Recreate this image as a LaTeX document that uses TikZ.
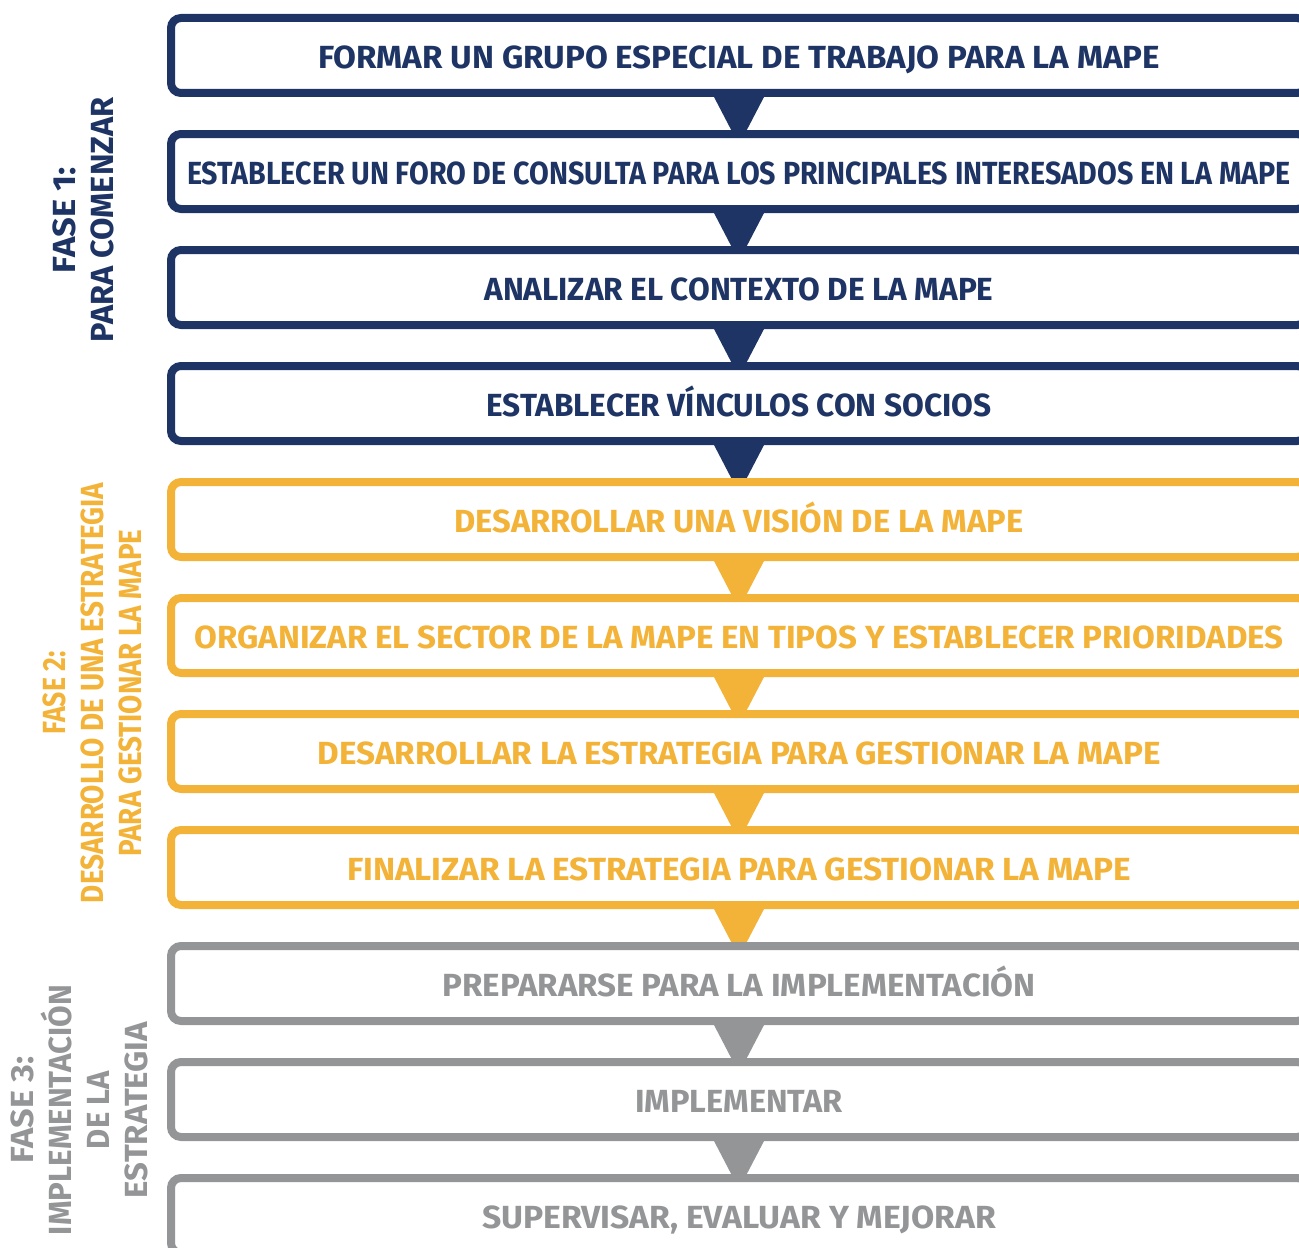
\documentclass[tikz,border=0pt]{standalone}
\usepackage{fontspec}
\setmainfont{Fira Sans}
\usetikzlibrary{backgrounds}

\definecolor{navy}{RGB}{30,52,100}
\definecolor{gold}{RGB}{243,179,57}
\definecolor{ash}{RGB}{148,149,151}

% squeeze or stretch a label to a given width
\newlength\fitlen
\newcommand{\fitto}[2]{\settowidth\fitlen{#2}\pgfmathsetmacro\fitfac{#1/\fitlen}\scalebox{\fitfac}[1]{#2}}

\tikzset{
  stepbox/.style={draw=#1, text=#1, fill=white, line width=4pt, rounded corners=5pt,
    minimum width=568pt, minimum height=37.5pt, inner sep=0pt,
    text height=13pt, text depth=0pt, font=\fontsize{16}{18}\selectfont\bfseries},
  phase/.style={text=#1, rotate=90, align=center, inner sep=0pt,
    font=\fontsize{16}{19}\selectfont\bfseries},
}

\begin{document}
\begin{tikzpicture}[x=0.5pt, y=-0.5pt]
    \useasboundingbox (0,0) rectangle (1299,1247);

    % Fase 1
    \node[stepbox=navy] (s1) at (739,55.5) {\fitto{421pt}{FORMAR UN GRUPO ESPECIAL DE TRABAJO PARA LA MAPE}};
    \node[stepbox=navy] (s2) at (739,171.5) {\fitto{552pt}{ESTABLECER UN FORO DE CONSULTA PARA LOS PRINCIPALES INTERESADOS EN LA MAPE}};
    \node[stepbox=navy] (s3) at (739,287.5) {\fitto{254.5pt}{ANALIZAR EL CONTEXTO DE LA MAPE}};
    \node[stepbox=navy] (s4) at (739,403.5) {\fitto{252.5pt}{ESTABLECER VÍNCULOS CON SOCIOS}};
    \node[phase=navy] (f1) at (83,220) {\fitto{53pt}{FASE 1:}\\ \fitto{122.5pt}{PARA COMENZAR}};

    % Fase 2
    \node[stepbox=gold] (s5) at (739,519.5) {\fitto{284.5pt}{DESARROLLAR UNA VISIÓN DE LA MAPE}};
    \node[stepbox=gold] (s6) at (739,635.5) {\fitto{544.5pt}{ORGANIZAR EL SECTOR DE LA MAPE EN TIPOS Y ESTABLECER PRIORIDADES}};
    \node[stepbox=gold] (s7) at (739,751.5) {\fitto{421.5pt}{DESARROLLAR LA ESTRATEGIA PARA GESTIONAR LA MAPE}};
    \node[stepbox=gold] (s8) at (739,867.5) {\fitto{392pt}{FINALIZAR LA ESTRATEGIA PARA GESTIONAR LA MAPE}};
    \node[phase=gold] (f2) at (92,693) {\fitto{41.5pt}{FASE 2:}\\ \fitto{210pt}{DESARROLLO DE UNA ESTRATEGIA}\\ \fitto{163.5pt}{PARA GESTIONAR LA MAPE}};

    % Fase 3
    \node[stepbox=ash] (s9) at (739,983.5) {\fitto{296.5pt}{PREPARARSE PARA LA IMPLEMENTACIÓN}};
    \node[stepbox=ash] (s10) at (739,1099.5) {\fitto{104pt}{IMPLEMENTAR}};
    \node[stepbox=ash] (s11) at (739,1215.5) {\fitto{257pt}{SUPERVISAR, EVALUAR Y MEJORAR}};
    \node[phase=ash] (f3) at (79,1110) {\fitto{53.5pt}{FASE 3:}\\ \fitto{125pt}{IMPLEMENTACIÓN}\\ \fitto{39pt}{DE LA}\\ \fitto{88pt}{ESTRATEGIA}};

    % Pointers
    \begin{scope}[on background layer]
    \fill[navy] ([xshift=-12.5pt]s1.south) -- ([xshift=12.5pt]s1.south) -- ([yshift=-24pt]s1.south) -- cycle;
    \fill[navy] ([xshift=-12.5pt]s2.south) -- ([xshift=12.5pt]s2.south) -- ([yshift=-24pt]s2.south) -- cycle;
    \fill[navy] ([xshift=-12.5pt]s3.south) -- ([xshift=12.5pt]s3.south) -- ([yshift=-24pt]s3.south) -- cycle;
    \fill[navy] ([xshift=-12.5pt]s4.south) -- ([xshift=12.5pt]s4.south) -- ([yshift=-24pt]s4.south) -- cycle;
    \fill[gold] ([xshift=-12.5pt]s5.south) -- ([xshift=12.5pt]s5.south) -- ([yshift=-24pt]s5.south) -- cycle;
    \fill[gold] ([xshift=-12.5pt]s6.south) -- ([xshift=12.5pt]s6.south) -- ([yshift=-24pt]s6.south) -- cycle;
    \fill[gold] ([xshift=-12.5pt]s7.south) -- ([xshift=12.5pt]s7.south) -- ([yshift=-24pt]s7.south) -- cycle;
    \fill[gold] ([xshift=-12.5pt]s8.south) -- ([xshift=12.5pt]s8.south) -- ([yshift=-24pt]s8.south) -- cycle;
    \fill[ash] ([xshift=-12.5pt]s9.south) -- ([xshift=12.5pt]s9.south) -- ([yshift=-24pt]s9.south) -- cycle;
    \fill[ash] ([xshift=-12.5pt]s10.south) -- ([xshift=12.5pt]s10.south) -- ([yshift=-24pt]s10.south) -- cycle;
    \end{scope}
\end{tikzpicture}
\end{document}
